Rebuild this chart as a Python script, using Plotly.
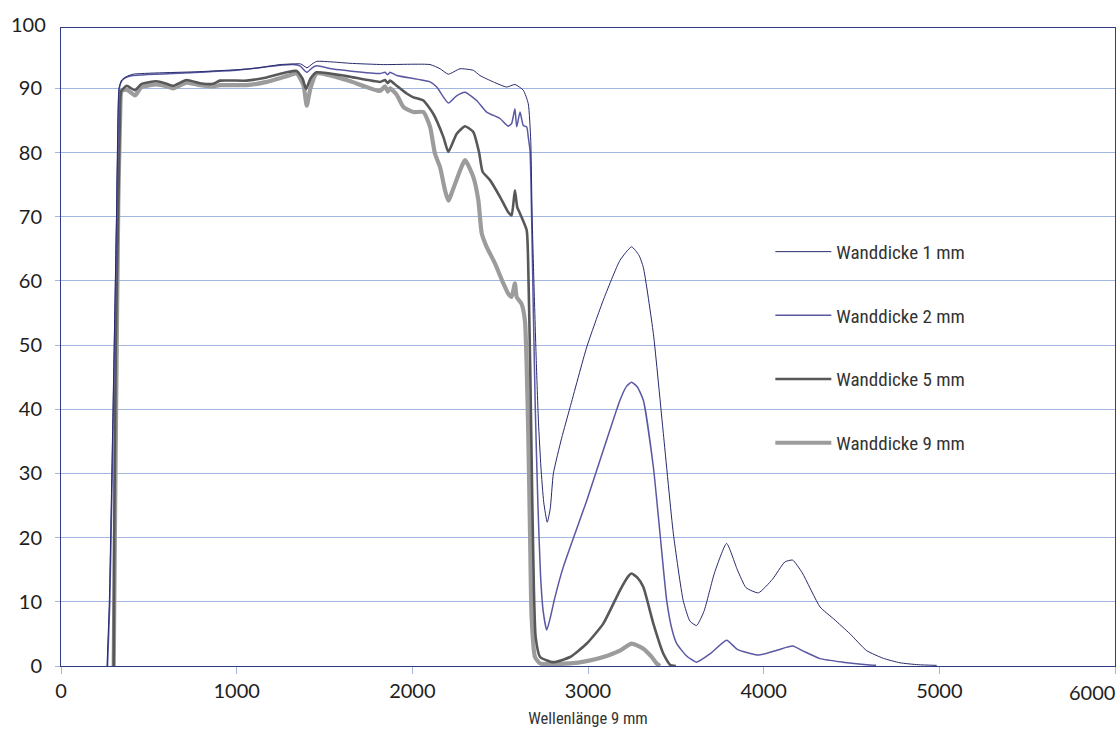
import plotly.graph_objects as go

# ---- data ----
x_1mm = [262, 275, 296, 317, 322, 330, 345, 370, 410, 791, 1000, 1100, 1247, 1321, 1365, 1400, 1430, 1456,
         1550, 1645, 1835, 2101, 2158, 2205, 2271, 2347, 2385, 2461, 2537, 2584, 2632, 2660, 2674, 2682,
         2692, 2705, 2718, 2732, 2748, 2768, 2785, 2803, 2850, 2898, 2993, 3087, 3182, 3248, 3290, 3315,
         3372, 3429, 3486, 3542, 3580, 3618, 3660, 3720, 3789, 3850, 3900, 3970, 4050, 4120, 4165, 4220,
         4321, 4400, 4492, 4586, 4681, 4776, 4880, 4985]
y_1mm = [0, 10, 40, 72, 82, 90, 91.3, 91.8, 92.2, 92.6, 92.9, 93.1, 93.7, 93.8, 93.8, 93.2, 93.8, 94.2,
         94.1, 93.9, 93.7, 93.7, 93.05, 92.2, 93.05, 92.8, 92.0, 91.0, 90.2, 90.6, 89.7, 87.6, 81.9, 70,
         60, 48, 38, 31, 25.5, 22.4, 24.5, 30, 35.5, 40.3, 49.7, 57.0, 63.2, 65.3, 64.0, 62.1,
         51.8, 36.2, 20.6, 10.2, 7.0, 6.3, 8.5, 14.5, 19.1, 15.0, 12.2, 11.4, 13.5, 16.2, 16.5, 14.5,
         9.2, 7.3, 5.0, 2.4, 1.2, 0.5, 0.2, 0.1]

x_2mm = [265, 278, 298, 319, 324, 332, 347, 372, 410, 791, 1000, 1247, 1321, 1360, 1399, 1430, 1456, 1550,
         1645, 1816, 1845, 1860, 1873, 1911, 2101, 2139, 2205, 2250, 2300, 2366, 2423, 2499, 2546, 2565,
         2584, 2594, 2613, 2632, 2651, 2660, 2670, 2679, 2689, 2700, 2715, 2730, 2745, 2765, 2785, 2810,
         2859, 2993, 3087, 3182, 3220, 3248, 3280, 3315, 3372, 3410, 3448, 3480, 3505, 3560, 3618, 3700,
         3789, 3850, 3970, 4080, 4165, 4220, 4321, 4450, 4586, 4640]
y_2mm = [0, 10, 40, 72, 82, 90, 91.2, 91.7, 92.0, 92.5, 92.8, 93.6, 93.7, 93.5, 92.5, 93.2, 93.5, 93.0,
         92.7, 92.3, 92.5, 92.1, 92.5, 92.0, 91.0, 90.2, 87.7, 88.8, 89.4, 88.1, 86.3, 85.3, 84.1, 84.5,
         86.8, 84.0, 86.3, 84.2, 84.0, 82.4, 80.3, 70, 55, 40, 25, 14, 8.5, 5.6, 7.5, 10.5,
         15.4, 25.8, 33.6, 41.4, 43.6, 44.2, 43.5, 41.4, 31.0, 20.6, 10.2, 5.5, 3.5, 1.6, 0.6, 2.0,
         4.0, 2.6, 1.7, 2.5, 3.1, 2.4, 1.15, 0.6, 0.2, 0.1]

x_5mm = [300, 303, 312, 326, 335, 342, 374, 421, 459, 544, 602, 638, 715, 791, 865, 905, 1057, 1171,
         1285, 1342, 1375, 1395, 1420, 1455, 1626, 1816, 1845, 1860, 1873, 1911, 1968, 2006, 2063, 2120,
         2177, 2205, 2252, 2300, 2347, 2380, 2400, 2442, 2499, 2546, 2565, 2584, 2597, 2613, 2651, 2660,
         2672, 2682, 2692, 2702, 2727, 2802, 2898, 2993, 3087, 3182, 3230, 3248, 3280, 3315, 3372, 3429,
         3467, 3500]
y_5mm = [0, 20, 50, 72, 85, 89.5, 90.4, 89.7, 90.7, 91.1, 90.7, 90.4, 91.3, 90.8, 90.7, 91.2, 91.2, 91.7,
         92.5, 92.7, 91.5, 89.9, 91.5, 92.5, 91.9, 91.0, 91.3, 90.8, 91.2, 90.4, 89.2, 88.6, 88.1, 86.0,
         82.4, 80.1, 82.9, 84.1, 83.2, 80.0, 77.0, 75.7, 73.1, 70.7, 70.2, 74.1, 71.5, 70.5, 67.9, 62,
         45, 27, 12, 4.5, 1.4, 0.6, 1.4, 3.5, 6.6, 11.8, 14.0, 14.4, 13.8, 12.3, 6.6, 1.9,
         0.2, 0]

x_9mm = [300, 310, 326, 337, 345, 374, 421, 459, 544, 602, 638, 715, 791, 865, 905, 1057, 1171, 1285,
         1342, 1380, 1399, 1420, 1455, 1626, 1816, 1845, 1860, 1873, 1911, 1949, 2006, 2063, 2101, 2129,
         2158, 2186, 2205, 2243, 2300, 2347, 2376, 2395, 2423, 2471, 2518, 2546, 2565, 2584, 2594, 2622,
         2641, 2651, 2660, 2670, 2679, 2698, 2727, 2898, 3000, 3087, 3182, 3248, 3315, 3360, 3391, 3410]
y_9mm = [0, 30, 72, 86, 89.6, 89.8, 88.9, 90.2, 90.6, 90.3, 90.0, 90.9, 90.5, 90.3, 90.5, 90.5, 91.0, 91.9,
         92.3, 90.5, 87.3, 90.0, 92.3, 91.3, 89.6, 90.3, 89.5, 90.0, 89.0, 87.1, 86.3, 86.3, 84.0, 79.8,
         77.7, 74.1, 72.5, 75.1, 78.8, 76.2, 72.5, 67.4, 65.3, 62.7, 59.6, 58.0, 57.5, 59.6, 57.5, 56.4,
         53.8, 46.6, 36.2, 20.6, 7.6, 1.4, 0.4, 0.4, 0.8, 1.4, 2.4, 3.5, 2.7, 1.5, 0.4, 0]

x_ticks = [0, 1000, 2000, 3000, 4000, 5000, 6000]
x_ticktext = ["0", "1000", "2000", "3000", "4000", "5000", ""]
x_last_label = "6000"
y_ticks = [0, 10, 20, 30, 40, 50, 60, 70, 80, 90]
y_top_label = "100"
x_title = "Wellenlänge 9 mm"

# drawing order: thick grey first, thin navy on top; legend rank gives 1,2,5,9 order
series = [
    ("Wanddicke 9 mm", x_9mm, y_9mm, "#9c9c9c", 4.2, 4),
    ("Wanddicke 5 mm", x_5mm, y_5mm, "#58585b", 2.6, 3),
    ("Wanddicke 2 mm", x_2mm, y_2mm, "#5a58a2", 1.5, 2),
    ("Wanddicke 1 mm", x_1mm, y_1mm, "#262a6c", 1.0, 1),
]

GRID = "#a3b6e2"
FRAME = "#2f3b82"
NARROW = "Liberation Sans Narrow, Roboto Condensed, Arial Narrow, Roboto, sans-serif"
TICKFONT = "Lato, Open Sans, sans-serif"
Y_MAX = 99.4

fig = go.Figure()
for name, xs, ys, col, w, rank in series:
    fig.add_trace(go.Scatter(x=xs, y=ys, mode="lines", name=name, legendgroup=name, legendrank=rank,
                             line=dict(color=col, width=w, shape="spline", smoothing=0.5)))

fig.update_layout(
    width=1119, height=733,
    margin=dict(l=61, r=4, t=28, b=67),
    paper_bgcolor="white", plot_bgcolor="white",
    showlegend=True,
    legend=dict(x=0.673, y=0.679, xanchor="left", yanchor="top",
                traceorder="grouped", tracegroupgap=36,
                font=dict(family=NARROW, size=19, color="#333333"),
                bgcolor="rgba(0,0,0,0)", itemwidth=56),
    xaxis=dict(range=[0, 6000], tickvals=x_ticks, ticktext=x_ticktext, showgrid=False, zeroline=False,
               showline=True, linecolor=FRAME, linewidth=1, mirror=True,
               ticks="outside", ticklen=7, tickcolor=GRID, tickwidth=1,
               tickfont=dict(family=TICKFONT, size=20, color="#1e1e1e"),
               title=dict(text=x_title, font=dict(family=NARROW, size=16.5, color="#333333"), standoff=11)),
    yaxis=dict(range=[0, Y_MAX], tickvals=y_ticks, showgrid=True, gridcolor=GRID, gridwidth=1,
               zeroline=False, showline=True, linecolor=FRAME, linewidth=1, mirror=True,
               ticks="outside", ticklen=5, tickcolor=GRID, tickwidth=1, ticklabelstandoff=9,
               tickfont=dict(family=TICKFONT, size=20, color="#1e1e1e")),
)
fig.add_annotation(x=0, y=100 / Y_MAX, xref="paper", yref="paper", text=y_top_label, showarrow=False,
                   xanchor="right", yanchor="middle", xshift=-13,
                   font=dict(family=TICKFONT, size=20, color="#1e1e1e"))
fig.add_annotation(x=1, y=0, xref="paper", yref="paper", text=x_last_label, showarrow=False,
                   xanchor="right", yanchor="top", xshift=2, yshift=-12,
                   font=dict(family=TICKFONT, size=20, color="#1e1e1e"))

fig.write_html("out.html", config={"displayModeBar": False},
               post_script="document.body.style.margin='0';")
